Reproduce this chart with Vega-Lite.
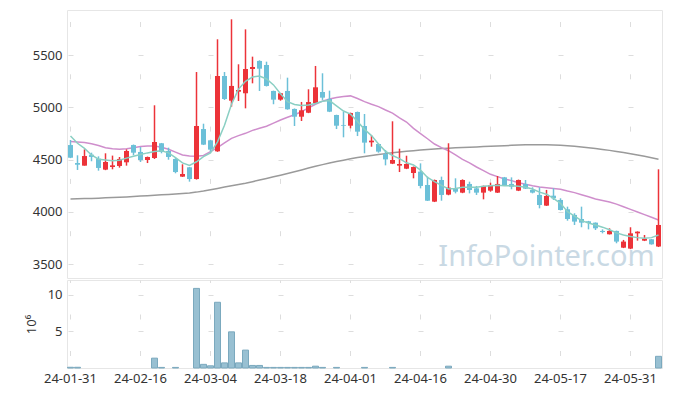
{
  "$schema": "https://vega.github.io/schema/vega-lite/v6.json",
  "padding": {"left": 24, "top": 9, "right": 10, "bottom": 5},
  "spacing": 0,
  "background": "#ffffff",
  "datasets": {
    "k": [
      {"d":"24-01-31","o":4640,"h":4688,"l":4515,"c":4519,"m5":4727,"m20":4675,"m120":4124,"v":0.1},
      {"d":"24-02-01","o":4468,"h":4542,"l":4402,"c":4452,"m5":4657,"m20":4670,"m120":4126,"v":0.1},
      {"d":"24-02-02","o":4443,"h":4599,"l":4443,"c":4535,"m5":4608,"m20":4664,"m120":4128,"v":0},
      {"d":"24-02-05","o":4548,"h":4567,"l":4485,"c":4526,"m5":4545,"m20":4652,"m120":4130,"v":0},
      {"d":"24-02-06","o":4510,"h":4532,"l":4395,"c":4421,"m5":4505,"m20":4635,"m120":4132,"v":0},
      {"d":"24-02-07","o":4405,"h":4561,"l":4400,"c":4478,"m5":4497,"m20":4615,"m120":4135,"v":0},
      {"d":"24-02-08","o":4430,"h":4539,"l":4408,"c":4446,"m5":4490,"m20":4605,"m120":4138,"v":0},
      {"d":"24-02-13","o":4440,"h":4526,"l":4424,"c":4507,"m5":4495,"m20":4600,"m120":4141,"v":0},
      {"d":"24-02-14","o":4475,"h":4599,"l":4443,"c":4583,"m5":4515,"m20":4605,"m120":4144,"v":0},
      {"d":"24-02-15","o":4640,"h":4645,"l":4542,"c":4567,"m5":4532,"m20":4615,"m120":4148,"v":0},
      {"d":"24-02-16","o":4574,"h":4621,"l":4478,"c":4497,"m5":4550,"m20":4625,"m120":4152,"v":0},
      {"d":"24-02-19","o":4497,"h":4530,"l":4468,"c":4526,"m5":4565,"m20":4631,"m120":4156,"v":0},
      {"d":"24-02-20","o":4516,"h":5020,"l":4507,"c":4669,"m5":4578,"m20":4630,"m120":4160,"v":1.35},
      {"d":"24-02-21","o":4657,"h":4660,"l":4561,"c":4574,"m5":4586,"m20":4618,"m120":4164,"v":0.08},
      {"d":"24-02-22","o":4583,"h":4615,"l":4500,"c":4526,"m5":4565,"m20":4600,"m120":4168,"v":0},
      {"d":"24-02-23","o":4507,"h":4515,"l":4370,"c":4382,"m5":4520,"m20":4572,"m120":4172,"v":0.08},
      {"d":"24-02-26","o":4338,"h":4456,"l":4335,"c":4363,"m5":4470,"m20":4545,"m120":4177,"v":0},
      {"d":"24-02-27","o":4427,"h":4430,"l":4290,"c":4315,"m5":4445,"m20":4535,"m120":4182,"v":0},
      {"d":"24-02-28","o":4315,"h":5338,"l":4310,"c":4822,"m5":4480,"m20":4533,"m120":4190,"v":10.9},
      {"d":"24-02-29","o":4793,"h":4844,"l":4640,"c":4644,"m5":4530,"m20":4540,"m120":4200,"v":0.5},
      {"d":"24-03-04","o":4685,"h":4690,"l":4577,"c":4596,"m5":4565,"m20":4577,"m120":4212,"v":0.3},
      {"d":"24-03-05","o":4580,"h":5651,"l":4575,"c":5300,"m5":4670,"m20":4615,"m120":4225,"v":9.0},
      {"d":"24-03-06","o":5300,"h":5338,"l":5071,"c":5080,"m5":4830,"m20":4660,"m120":4238,"v":0.7},
      {"d":"24-03-07","o":5064,"h":5842,"l":5007,"c":5205,"m5":5030,"m20":4704,"m120":4250,"v":4.95},
      {"d":"24-03-08","o":5150,"h":5412,"l":5061,"c":5166,"m5":5175,"m20":4730,"m120":4262,"v":0.7},
      {"d":"24-03-11","o":5135,"h":5746,"l":4991,"c":5367,"m5":5250,"m20":4752,"m120":4275,"v":2.45},
      {"d":"24-03-12","o":5367,"h":5485,"l":5230,"c":5386,"m5":5290,"m20":4780,"m120":4290,"v":0.35},
      {"d":"24-03-13","o":5444,"h":5450,"l":5157,"c":5370,"m5":5300,"m20":4800,"m120":4305,"v":0.35},
      {"d":"24-03-14","o":5405,"h":5437,"l":5200,"c":5205,"m5":5272,"m20":4820,"m120":4320,"v":0.08},
      {"d":"24-03-15","o":5157,"h":5160,"l":5030,"c":5074,"m5":5215,"m20":4850,"m120":4336,"v":0.08},
      {"d":"24-03-18","o":5074,"h":5138,"l":5064,"c":5135,"m5":5130,"m20":4880,"m120":4352,"v":0.08},
      {"d":"24-03-19","o":5157,"h":5284,"l":4978,"c":4982,"m5":5055,"m20":4905,"m120":4368,"v":0.08},
      {"d":"24-03-20","o":4985,"h":4990,"l":4822,"c":4911,"m5":5028,"m20":4930,"m120":4385,"v":0.08},
      {"d":"24-03-21","o":4911,"h":5052,"l":4870,"c":4972,"m5":5018,"m20":4958,"m120":4402,"v":0.08},
      {"d":"24-03-22","o":4949,"h":5173,"l":4945,"c":5051,"m5":5023,"m20":4995,"m120":4420,"v":0.08},
      {"d":"24-03-25","o":5039,"h":5396,"l":5035,"c":5192,"m5":5037,"m20":5030,"m120":4437,"v":0.25},
      {"d":"24-03-26","o":5147,"h":5326,"l":5071,"c":5093,"m5":5058,"m20":5060,"m120":4453,"v":0.08},
      {"d":"24-03-27","o":5080,"h":5160,"l":4955,"c":4959,"m5":5065,"m20":5080,"m120":4468,"v":0},
      {"d":"24-03-28","o":4927,"h":4930,"l":4793,"c":4825,"m5":5015,"m20":5095,"m120":4482,"v":0.08},
      {"d":"24-03-29","o":4832,"h":4959,"l":4714,"c":4825,"m5":4965,"m20":5105,"m120":4495,"v":0},
      {"d":"24-04-01","o":4825,"h":4950,"l":4800,"c":4946,"m5":4935,"m20":5110,"m120":4508,"v":0},
      {"d":"24-04-02","o":4956,"h":4960,"l":4726,"c":4768,"m5":4865,"m20":5085,"m120":4520,"v":0},
      {"d":"24-04-03","o":4822,"h":4937,"l":4561,"c":4663,"m5":4790,"m20":5055,"m120":4530,"v":0.08},
      {"d":"24-04-04","o":4666,"h":4733,"l":4624,"c":4682,"m5":4730,"m20":5030,"m120":4540,"v":0},
      {"d":"24-04-05","o":4650,"h":4655,"l":4567,"c":4577,"m5":4650,"m20":5007,"m120":4550,"v":0},
      {"d":"24-04-08","o":4554,"h":4593,"l":4446,"c":4503,"m5":4580,"m20":4975,"m120":4558,"v":0},
      {"d":"24-04-09","o":4462,"h":4867,"l":4458,"c":4497,"m5":4540,"m20":4945,"m120":4566,"v":0.08},
      {"d":"24-04-11","o":4443,"h":4605,"l":4382,"c":4459,"m5":4510,"m20":4900,"m120":4573,"v":0},
      {"d":"24-04-12","o":4414,"h":4538,"l":4410,"c":4459,"m5":4470,"m20":4860,"m120":4580,"v":0},
      {"d":"24-04-15","o":4373,"h":4435,"l":4322,"c":4430,"m5":4450,"m20":4800,"m120":4586,"v":0},
      {"d":"24-04-16","o":4386,"h":4465,"l":4226,"c":4249,"m5":4400,"m20":4750,"m120":4592,"v":0},
      {"d":"24-04-17","o":4258,"h":4338,"l":4105,"c":4108,"m5":4330,"m20":4700,"m120":4597,"v":0},
      {"d":"24-04-18","o":4099,"h":4310,"l":4095,"c":4306,"m5":4290,"m20":4650,"m120":4602,"v":0},
      {"d":"24-04-19","o":4306,"h":4338,"l":4108,"c":4163,"m5":4255,"m20":4615,"m120":4606,"v":0},
      {"d":"24-04-22","o":4166,"h":4657,"l":4160,"c":4233,"m5":4220,"m20":4586,"m120":4610,"v":0.25},
      {"d":"24-04-23","o":4226,"h":4322,"l":4178,"c":4194,"m5":4225,"m20":4545,"m120":4613,"v":0},
      {"d":"24-04-24","o":4185,"h":4312,"l":4180,"c":4306,"m5":4236,"m20":4503,"m120":4616,"v":0},
      {"d":"24-04-25","o":4268,"h":4290,"l":4178,"c":4210,"m5":4236,"m20":4470,"m120":4619,"v":0},
      {"d":"24-04-26","o":4226,"h":4249,"l":4163,"c":4185,"m5":4236,"m20":4430,"m120":4622,"v":0},
      {"d":"24-04-29","o":4185,"h":4252,"l":4121,"c":4249,"m5":4245,"m20":4395,"m120":4625,"v":0},
      {"d":"24-04-30","o":4204,"h":4280,"l":4194,"c":4258,"m5":4252,"m20":4360,"m120":4628,"v":0},
      {"d":"24-05-02","o":4185,"h":4344,"l":4182,"c":4268,"m5":4255,"m20":4338,"m120":4631,"v":0},
      {"d":"24-05-03","o":4331,"h":4335,"l":4249,"c":4258,"m5":4252,"m20":4315,"m120":4634,"v":0},
      {"d":"24-05-07","o":4268,"h":4331,"l":4217,"c":4242,"m5":4250,"m20":4300,"m120":4637,"v":0},
      {"d":"24-05-08","o":4204,"h":4310,"l":4200,"c":4306,"m5":4245,"m20":4280,"m120":4640,"v":0},
      {"d":"24-05-09","o":4268,"h":4306,"l":4220,"c":4223,"m5":4236,"m20":4265,"m120":4642,"v":0},
      {"d":"24-05-10","o":4210,"h":4236,"l":4178,"c":4185,"m5":4220,"m20":4250,"m120":4643,"v":0},
      {"d":"24-05-13","o":4163,"h":4236,"l":4035,"c":4067,"m5":4190,"m20":4240,"m120":4643,"v":0},
      {"d":"24-05-14","o":4061,"h":4211,"l":4058,"c":4153,"m5":4170,"m20":4232,"m120":4642,"v":0},
      {"d":"24-05-16","o":4156,"h":4227,"l":4115,"c":4131,"m5":4130,"m20":4225,"m120":4640,"v":0},
      {"d":"24-05-17","o":4115,"h":4131,"l":4015,"c":4019,"m5":4083,"m20":4217,"m120":4637,"v":0},
      {"d":"24-05-20","o":4026,"h":4051,"l":3917,"c":3933,"m5":4003,"m20":4200,"m120":4633,"v":0},
      {"d":"24-05-21","o":3972,"h":3988,"l":3876,"c":3908,"m5":3960,"m20":4185,"m120":4628,"v":0},
      {"d":"24-05-22","o":3933,"h":4051,"l":3854,"c":3898,"m5":3917,"m20":4165,"m120":4622,"v":0},
      {"d":"24-05-23","o":3911,"h":3915,"l":3834,"c":3895,"m5":3895,"m20":4145,"m120":4615,"v":0},
      {"d":"24-05-24","o":3898,"h":3900,"l":3828,"c":3844,"m5":3875,"m20":4125,"m120":4607,"v":0},
      {"d":"24-05-27","o":3819,"h":3834,"l":3796,"c":3809,"m5":3855,"m20":4110,"m120":4598,"v":0},
      {"d":"24-05-28","o":3787,"h":3844,"l":3785,"c":3819,"m5":3830,"m20":4095,"m120":4589,"v":0},
      {"d":"24-05-29","o":3819,"h":3822,"l":3701,"c":3717,"m5":3800,"m20":4075,"m120":4579,"v":0},
      {"d":"24-05-30","o":3659,"h":3733,"l":3655,"c":3717,"m5":3780,"m20":4050,"m120":4568,"v":0},
      {"d":"24-05-31","o":3650,"h":3854,"l":3645,"c":3796,"m5":3765,"m20":4025,"m120":4557,"v":0},
      {"d":"24-06-03","o":3796,"h":3815,"l":3726,"c":3812,"m5":3755,"m20":4000,"m120":4545,"v":0},
      {"d":"24-06-04","o":3726,"h":3780,"l":3722,"c":3745,"m5":3748,"m20":3975,"m120":4532,"v":0},
      {"d":"24-06-05","o":3739,"h":3742,"l":3688,"c":3691,"m5":3755,"m20":3950,"m120":4518,"v":0},
      {"d":"24-06-07","o":3670,"h":4408,"l":3665,"c":3876,"m5":3780,"m20":3924,"m120":4504,"v":1.6}
    ],
    "wm": [{"t": "InfoPointer.com"}]
  },
  "resolve": {"scale": {"x": "shared"}},
  "vconcat": [
    {
      "width": 595,
      "height": 268,
      "data": {"name": "k"},
      "encoding": {
        "x": {
          "field": "d", "type": "ordinal",
          "scale": {"paddingInner": 0, "paddingOuter": 0},
          "axis": {
            "values": ["24-01-31","24-02-16","24-03-04","24-03-18","24-04-01","24-04-16","24-04-30","24-05-17","24-05-31"],
            "labels": false, "ticks": false, "domain": false, "title": null,
            "grid": true, "bandPosition": 0.5,
            "gridColor": "#dddddd", "gridDash": [5, 47.3], "gridDashOffset": 40.8
          }
        }
      },
      "layer": [
        {
          "data": {"name": "wm"},
          "mark": {"type": "text", "font": "Noto Sans", "fontSize": 29, "color": "#c9d9e4", "align": "center", "baseline": "alphabetic"},
          "encoding": {
            "x": {"datum": "24-05-14"},
            "y": {"datum": 3486, "type": "quantitative", "scale": {"domain": [3369, 5931], "nice": false, "zero": false}, "title": null,
              "axis": {"values": [3500, 4000, 4500, 5000, 5500], "format": "d", "title": null, "minExtent": 34, "maxExtent": 34,
                "grid": true, "gridColor": "#dddddd", "gridDash": [5, 65], "gridDashOffset": 69}},
            "text": {"field": "t"}
          }
        },
        {
          "mark": {"type": "line", "color": "#9a9a9a", "strokeWidth": 1.5},
          "encoding": {"y": {"field": "m120", "type": "quantitative", "title": null, "scale": {"domain": [3369, 5931], "nice": false, "zero": false}}}
        },
        {
          "mark": {"type": "line", "color": "#cf8ecc", "strokeWidth": 1.5},
          "encoding": {"y": {"field": "m20", "type": "quantitative", "title": null, "scale": {"domain": [3369, 5931], "nice": false, "zero": false}}}
        },
        {
          "mark": {"type": "rule", "strokeWidth": 1.5},
          "encoding": {
            "y": {"field": "l", "type": "quantitative", "title": null, "scale": {"domain": [3369, 5931], "nice": false, "zero": false}},
            "y2": {"field": "h"},
            "color": {"condition": {"test": "datum.c >= datum.o", "value": "#ec3339"}, "value": "#6cc0d8"}
          }
        },
        {
          "mark": {"type": "bar", "size": 5},
          "encoding": {
            "y": {"field": "o", "type": "quantitative", "title": null, "scale": {"domain": [3369, 5931], "nice": false, "zero": false}},
            "y2": {"field": "c"},
            "color": {"condition": {"test": "datum.c >= datum.o", "value": "#ec3339"}, "value": "#6cc0d8"}
          }
        },
        {
          "mark": {"type": "line", "color": "#8acfc3", "strokeWidth": 1.5},
          "encoding": {"y": {"field": "m5", "type": "quantitative", "title": null, "scale": {"domain": [3369, 5931], "nice": false, "zero": false}}}
        }
      ]
    },
    {
      "width": 595,
      "height": 88,
      "data": {"name": "k"},
      "transform": [{"filter": "datum.v > 0"}],
      "mark": {"type": "bar", "size": 6, "fill": "#98c0d2", "stroke": "#7ba9be", "strokeWidth": 1},
      "encoding": {
        "x": {
          "field": "d", "type": "ordinal",
          "scale": {"paddingInner": 0, "paddingOuter": 0},
          "axis": {
            "values": ["24-01-31","24-02-16","24-03-04","24-03-18","24-04-01","24-04-16","24-04-30","24-05-17","24-05-31"],
            "labelAngle": 0, "ticks": false, "domain": false, "title": null,
            "labelPadding": 4, "bandPosition": 0.5,
            "grid": true, "gridColor": "#dddddd", "gridDash": [5, 31.5], "gridDashOffset": 2.5
          }
        },
        "y": {
          "field": "v", "type": "quantitative",
          "scale": {"domain": [0, 12.05], "nice": false, "zero": true},
          "axis": {
            "values": [5, 10], "title": "10⁶", "titlePadding": 9, "minExtent": 20, "maxExtent": 20,
            "grid": true, "gridColor": "#dddddd", "gridDash": [5, 65], "gridDashOffset": 69
          }
        }
      }
    }
  ],
  "config": {
    "view": {"stroke": "#e6e6e6"},
    "axis": {
      "labelFont": "Noto Sans", "labelFontSize": 13, "labelColor": "#333333",
      "titleFont": "Noto Sans", "titleFontSize": 13, "titleColor": "#333333", "titleFontWeight": "normal",
      "domain": false, "ticks": false, "labelPadding": 5
    },
    "scale": {"continuousPadding": 0}
  }
}
